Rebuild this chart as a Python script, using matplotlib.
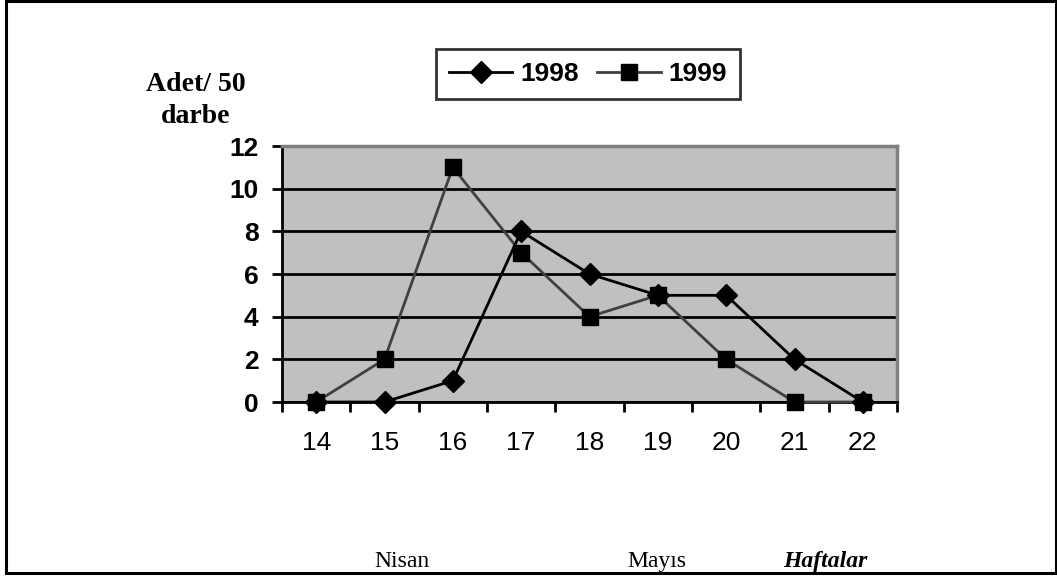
import matplotlib.pyplot as plt
from matplotlib.patches import Rectangle

weeks = ['14', '15', '16', '17', '18', '19', '20', '21', '22']
y1998 = [0, 0, 1, 8, 6, 5, 5, 2, 0]
y1999 = [0, 2, 11, 7, 4, 5, 2, 0, 0]

sans = 'Liberation Sans'
serif = 'Liberation Serif'

fig = plt.figure(figsize=(10.57, 5.77), dpi=100)
ax = fig.add_axes([282/1057, 1-402/577, (897-282)/1057, (402-146)/577])
ax.set_facecolor('#c0c0c0')

x = list(range(len(weeks)))
l99, = ax.plot(x, y1999, color='#404040', lw=2, marker='s', ms=12,
               mfc='black', mec='black', label='1999', clip_on=False, zorder=3)
l98, = ax.plot(x, y1998, color='black', lw=2, marker='D', ms=11,
               mfc='black', mec='black', label='1998', clip_on=False, zorder=4)

ax.set_xlim(-0.5, len(weeks) - 0.5)
ax.set_ylim(0, 12)
ax.set_yticks(range(0, 13, 2))
ax.set_yticklabels([str(v) for v in range(0, 13, 2)], fontfamily=sans,
                   fontweight='bold', fontsize=19)
ax.tick_params(axis='y', length=7, width=2, pad=10, color='black')

# ticks at category borders, labels at centres
ax.set_xticks([i - 0.5 for i in range(len(weeks) + 1)])
ax.set_xticklabels([])
ax.tick_params(axis='x', which='major', length=7, width=2, direction='out')
ax.set_xticks(x, minor=True)
ax.set_xticklabels(weeks, minor=True, fontfamily=sans, fontsize=19)
ax.tick_params(axis='x', which='minor', length=0, pad=21)

ax.set_axisbelow(True)
ax.yaxis.grid(True, color='black', lw=2)
for s in ['left', 'bottom']:
    ax.spines[s].set_color('black')
    ax.spines[s].set_linewidth(2)
for s in ['top', 'right']:
    ax.spines[s].set_color('#808080')
    ax.spines[s].set_linewidth(2.5)

leg = fig.legend(handles=[l98, l99], loc='center', bbox_to_anchor=(588/1057, 1-74/577),
                 ncol=2, frameon=True, fancybox=False, handlelength=2.4,
                 columnspacing=0.7, handletextpad=0.3, borderpad=0.5,
                 prop={'family': sans, 'weight': 'bold', 'size': 19})
leg.get_frame().set_edgecolor('black')
leg.get_frame().set_linewidth(2)

fig.text(196/1057, 1-123/577, 'Adet/ 50\ndarbe', ha='center', va='baseline',
         fontfamily=serif, fontweight='bold', fontsize=20, linespacing=1.35,
         multialignment='center')

fig.text(402/1057, 1-567/577, 'Nisan', ha='center', va='baseline',
         fontfamily=serif, fontsize=17)
fig.text(657/1057, 1-567/577, 'Mayıs', ha='center', va='baseline',
         fontfamily=serif, fontsize=17)
fig.text(825/1057, 1-567/577, 'Haftalar', ha='center', va='baseline',
         fontfamily=serif, fontsize=17, fontweight='bold', fontstyle='italic')

fig.add_artist(Rectangle((6/1057, 4/577), 1050/1057, 572/577, transform=fig.transFigure,
                         fill=False, edgecolor='black', lw=2.2))

fig.savefig('out.png', dpi=100)
